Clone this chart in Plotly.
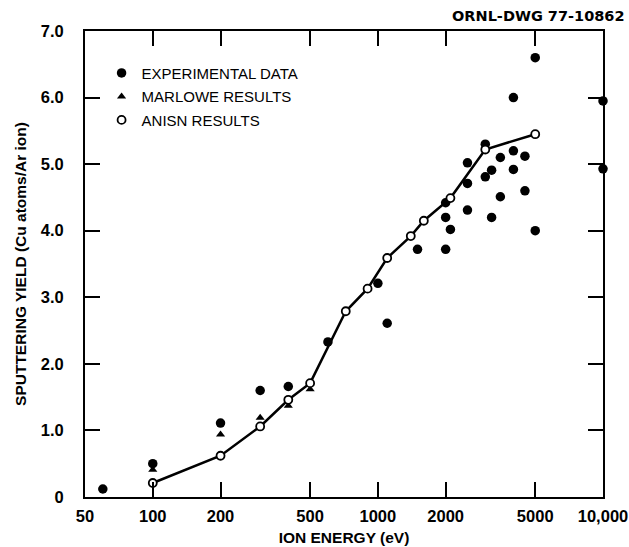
import plotly.graph_objects as go

# ---- data ----
exp_energy = [60, 100, 200, 300, 400, 600, 1000, 1100, 1500, 2000, 2000, 2000,
              2100, 2500, 2500, 2500, 3000, 3000, 3200, 3200, 3500, 3500,
              4000, 4000, 4000, 4500, 4500, 5000, 5000, 10000, 10000]
exp_yield = [0.12, 0.50, 1.11, 1.60, 1.66, 2.33, 3.21, 2.61, 3.72, 3.72, 4.20, 4.42,
             4.02, 4.31, 4.71, 5.02, 4.81, 5.30, 4.20, 4.91, 4.51, 5.10,
             4.92, 5.20, 6.00, 4.60, 5.12, 4.00, 6.60, 5.95, 4.93]

marlowe_energy = [100, 200, 300, 400, 500]
marlowe_yield = [0.41, 0.94, 1.19, 1.37, 1.62]

anisn_energy = [100, 200, 300, 400, 500, 720, 900, 1100, 1400, 1600, 2100, 3000, 5000]
anisn_yield = [0.21, 0.62, 1.06, 1.46, 1.71, 2.79, 3.13, 3.59, 3.92, 4.15, 4.49, 5.22, 5.45]

x_tickvals = [50, 100, 200, 500, 1000, 2000, 5000, 10000]
x_ticktext = ["50", "100", "200", "500", "1000", "2000", "5000", "10,000"]
y_tickvals = [0, 1, 2, 3, 4, 5, 6, 7]
y_ticktext = ["0", "1.0", "2.0", "3.0", "4.0", "5.0", "6.0", "7.0"]

FONT = "Liberation Sans"

fig = go.Figure()

# ANISN connecting line
fig.add_trace(go.Scatter(
    x=anisn_energy, y=anisn_yield, mode="lines",
    line=dict(color="black", width=2.5), showlegend=False, hoverinfo="skip",
    cliponaxis=False))

fig.add_trace(go.Scatter(
    x=exp_energy, y=exp_yield, mode="markers", name="EXPERIMENTAL DATA",
    legendgroup="a",
    marker=dict(symbol="circle", size=9.5, color="black"), cliponaxis=False))

fig.add_trace(go.Scatter(
    x=marlowe_energy, y=marlowe_yield, mode="markers", name="MARLOWE RESULTS",
    legendgroup="b",
    marker=dict(symbol="triangle-up", size=8, color="black"), cliponaxis=False))

fig.add_trace(go.Scatter(
    x=anisn_energy, y=anisn_yield, mode="markers", name="ANISN RESULTS",
    legendgroup="c",
    marker=dict(symbol="circle", size=8, color="white",
                line=dict(color="black", width=1.8)), cliponaxis=False))

axis_common = dict(
    showgrid=False, zeroline=False, showline=True, linecolor="black", linewidth=2,
    mirror="allticks", ticks="inside", ticklen=15, tickwidth=2, tickcolor="black",
    tickfont=dict(family=FONT, size=16.5, color="black", weight="bold"),
)

fig.update_layout(
    width=629, height=547,
    margin=dict(l=85, r=26, t=31, b=50, autoexpand=False),
    paper_bgcolor="white", plot_bgcolor="white",
    xaxis=dict(type="log", range=[1.69897, 4.0], tickmode="array",
               tickvals=x_tickvals, ticktext=x_ticktext, ticklabelstandoff=3,
               title=dict(text="ION ENERGY (eV)", standoff=8,
                          font=dict(family=FONT, size=15.5, color="black", weight="bold")),
               **axis_common),
    yaxis=dict(range=[0, 7], tickmode="array", tickvals=y_tickvals,
               ticktext=y_ticktext, ticklabelstandoff=16,
               title=dict(text="SPUTTERING YIELD (Cu atoms/Ar ion)", standoff=10,
                          font=dict(family=FONT, size=15.5, color="black", weight="bold")),
               **axis_common),
    legend=dict(x=0.032, y=0.945, xanchor="left", yanchor="top",
                bgcolor="rgba(0,0,0,0)", tracegroupgap=1,
                font=dict(family=FONT, size=15, color="black")),
    showlegend=True,
    annotations=[dict(text="ORNL-DWG 77-10862", xref="paper", yref="paper",
                      x=1.0, xshift=24, y=1.0, yshift=15, xanchor="right",
                      yanchor="middle", showarrow=False,
                      font=dict(family="DejaVu Sans", size=14.5, color="black",
                                weight="bold"))],
)

fig.write_html("out.html")
